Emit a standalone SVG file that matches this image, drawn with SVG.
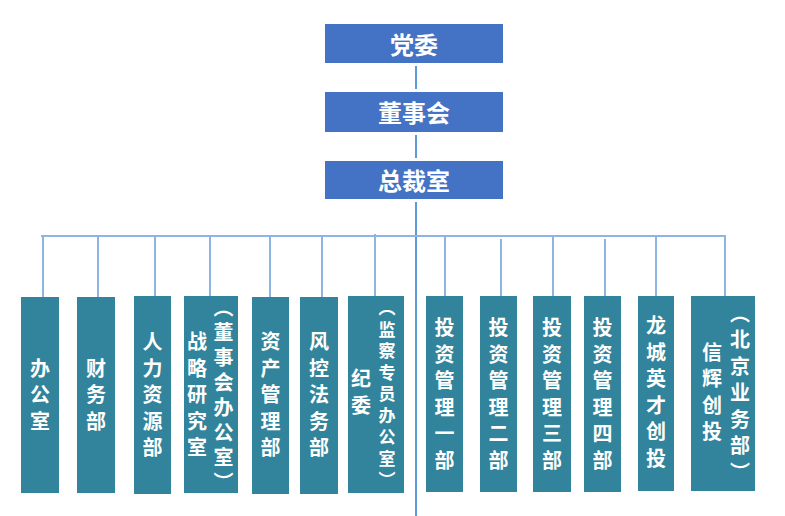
<svg xmlns="http://www.w3.org/2000/svg" width="785" height="516" viewBox="0 0 785 516">
<style>
.top{fill:#4472C4}
.dept{fill:#31849B}
.tt{font-family:"Noto Sans CJK SC","Liberation Sans",sans-serif;font-weight:bold;fill:#fff;font-size:24px;text-anchor:middle;dominant-baseline:central}
.vt{font-family:"Noto Sans CJK SC","Liberation Sans",sans-serif;font-weight:bold;fill:#fff;font-size:20px;text-anchor:middle;writing-mode:vertical-rl;letter-spacing:6.5px}
.vp{letter-spacing:5px}
.vs{font-size:17px;letter-spacing:4.5px}
.main{stroke:#5B9BD5;stroke-width:2;fill:none}
.bus{stroke:#8DB4E2;stroke-width:2;fill:none}
</style>
<rect width="785" height="516" fill="#fff"/>
<g id="connectors">
<line class="main" x1="416" y1="66" x2="416" y2="89"/>
<line class="main" x1="416" y1="135" x2="416" y2="158"/>
<line class="main" x1="416" y1="202" x2="416" y2="516"/>
<line class="bus" x1="41" y1="236" x2="726" y2="236"/>
<line class="bus" x1="43" y1="236" x2="43" y2="297"/>
<line class="bus" x1="98" y1="236" x2="98" y2="297"/>
<line class="bus" x1="155" y1="236" x2="155" y2="296"/>
<line class="bus" x1="210" y1="236" x2="210" y2="296"/>
<line class="bus" x1="270" y1="236" x2="270" y2="297"/>
<line class="bus" x1="322" y1="236" x2="322" y2="297"/>
<line class="bus" x1="375" y1="234" x2="375" y2="296"/>
<line class="bus" x1="445" y1="236" x2="445" y2="296"/>
<line class="bus" x1="501" y1="239" x2="501" y2="296"/>
<line class="bus" x1="553" y1="235" x2="553" y2="296"/>
<line class="bus" x1="605" y1="239" x2="605" y2="296"/>
<line class="bus" x1="656" y1="235" x2="656" y2="296"/>
<line class="bus" x1="725" y1="235" x2="725" y2="296"/>
</g>
<g id="n-dangwei"><rect class="top" x="325" y="24" width="178" height="39"/><text class="tt" x="414" y="43">党委</text></g>
<g id="n-dongshihui"><rect class="top" x="325" y="92" width="178" height="40"/><text class="tt" x="414" y="111">董事会</text></g>
<g id="n-zongcaishi"><rect class="top" x="325" y="161" width="178" height="38"/><text class="tt" x="414" y="179">总裁室</text></g>
<g id="n-bangongshi"><rect class="dept" x="21" y="297" width="38" height="196"/><text class="vt" x="40" y="398">办公室</text></g>
<g id="n-caiwubu"><rect class="dept" x="77" y="297" width="38" height="196"/><text class="vt" x="96" y="398">财务部</text></g>
<g id="n-renli"><rect class="dept" x="134" y="296" width="37" height="198"/><text class="vt" x="152.5" y="398">人力资源部</text></g>
<g id="n-zhanlue"><rect class="dept" x="184" y="296" width="54" height="197"/><text class="vt" x="197" y="398">战略研究室</text><text class="vt vp" x="223.5" y="397">（董事会办公室）</text></g>
<g id="n-zichan"><rect class="dept" x="252" y="297" width="37" height="197"/><text class="vt" x="270.5" y="398">资产管理部</text></g>
<g id="n-fengkong"><rect class="dept" x="300" y="297" width="38" height="197"/><text class="vt" x="319" y="398">风控法务部</text></g>
<g id="n-jiwei"><rect class="dept" x="348" y="296" width="56" height="197"/><text class="vt" x="361" y="395">纪委</text><text class="vt vs" x="387" y="396">（监察专员办公室）</text></g>
<g id="n-touzi1"><rect class="dept" x="426" y="296" width="37" height="196"/><text class="vt" x="444.5" y="397">投资管理一部</text></g>
<g id="n-touzi2"><rect class="dept" x="480" y="296" width="37" height="196"/><text class="vt" x="498.5" y="397">投资管理二部</text></g>
<g id="n-touzi3"><rect class="dept" x="533" y="296" width="38" height="196"/><text class="vt" x="552" y="397">投资管理三部</text></g>
<g id="n-touzi4"><rect class="dept" x="584" y="296" width="37" height="196"/><text class="vt" x="602.5" y="397">投资管理四部</text></g>
<g id="n-longcheng"><rect class="dept" x="638" y="296" width="36" height="195"/><text class="vt" x="656" y="395">龙城英才创投</text></g>
<g id="n-xinhui"><rect class="dept" x="691" y="296" width="64" height="195"/><text class="vt" x="712" y="395">信辉创投</text><text class="vt" x="740" y="396">（北京业务部）</text></g>
</svg>
